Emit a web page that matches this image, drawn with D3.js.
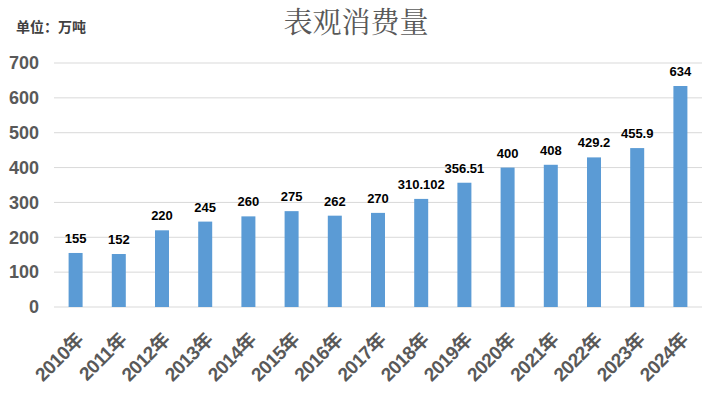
<!DOCTYPE html>
<html><head><meta charset="utf-8">
<script src="https://cdn.jsdelivr.net/npm/d3@7"></script>
<style>body{margin:0;background:#fff;}svg{display:block;}</style>
</head><body>
<svg id="c" width="710" height="397"></svg>
<script>
const categories = ["2010年","2011年","2012年","2013年","2014年","2015年","2016年","2017年","2018年","2019年","2020年","2021年","2022年","2023年","2024年"];
const values = [155,152,220,245,260,275,262,270,310.102,356.51,400,408,429.2,455.9,634];
const labels = ["155","152","220","245","260","275","262","270","310.102","356.51","400","408","429.2","455.9","634"];
const yTicks = [0,100,200,300,400,500,600,700];
const title = "表观消费量";
const unit = "单位：万吨";

const svg = d3.select("#c");
const m = {left:54, right:8, top:63, bottom:90};
const W = 710, H = 397;
const x = d3.scaleBand().domain(categories).range([m.left, W - m.right]).paddingInner(0.676).paddingOuter(0.338);
const y = d3.scaleLinear().domain([0,700]).range([H - m.bottom, m.top]);

svg.append("g").selectAll("line").data(yTicks).join("line")
  .attr("x1", m.left).attr("x2", W - m.right)
  .attr("y1", d => y(d)).attr("y2", d => y(d))
  .attr("stroke", "#d9d9d9").attr("stroke-width", 1);

const yAxis = svg.append("g").attr("transform", `translate(${m.left},0)`)
  .call(d3.axisLeft(y).tickValues(yTicks).tickSize(0).tickPadding(15));
yAxis.select(".domain").remove();
yAxis.selectAll("text").attr("font-family","Liberation Sans, Arial, sans-serif")
  .attr("font-size",18).attr("font-weight","bold").attr("fill","#595959");

svg.append("g").selectAll("rect").data(values).join("rect")
  .attr("x", (d,i) => x(categories[i])).attr("width", x.bandwidth())
  .attr("y", d => y(d)).attr("height", d => y(0) - y(d))
  .attr("fill", "#5b9bd5");

svg.append("g").selectAll("text").data(values).join("text")
  .attr("x", (d,i) => x(categories[i]) + x.bandwidth()/2)
  .attr("y", d => y(d) - 10)
  .attr("text-anchor","middle")
  .attr("font-family","Liberation Sans, Arial, sans-serif")
  .attr("font-size",13).attr("font-weight","bold").attr("fill","#000")
  .text((d,i) => labels[i]);

const xAxis = svg.append("g").attr("transform", `translate(0,${y(0)})`)
  .call(d3.axisBottom(x).tickSize(0).tickPadding(0));
xAxis.select(".domain").remove();
xAxis.selectAll("text")
  .attr("font-family","Liberation Sans, Noto Sans CJK SC, sans-serif")
  .attr("font-size",19).attr("font-weight","bold").attr("fill","#595959")
  .attr("text-anchor","end")
  .attr("dy","0")
  .attr("letter-spacing","-0.5")
  .attr("transform","translate(9,34) rotate(-45)");

svg.append("text").attr("x", 356).attr("y", 33).attr("text-anchor","middle")
  .attr("font-family","Noto Serif CJK SC, SimSun, Noto Sans CJK SC, serif")
  .attr("font-size",29).attr("fill","#595959").text(title);

svg.append("text").attr("x", 16).attr("y", 32)
  .attr("font-family","Noto Sans CJK SC, sans-serif")
  .attr("font-size",14).attr("font-weight","bold").attr("fill","#404040").text(unit);
</script>
</body></html>
